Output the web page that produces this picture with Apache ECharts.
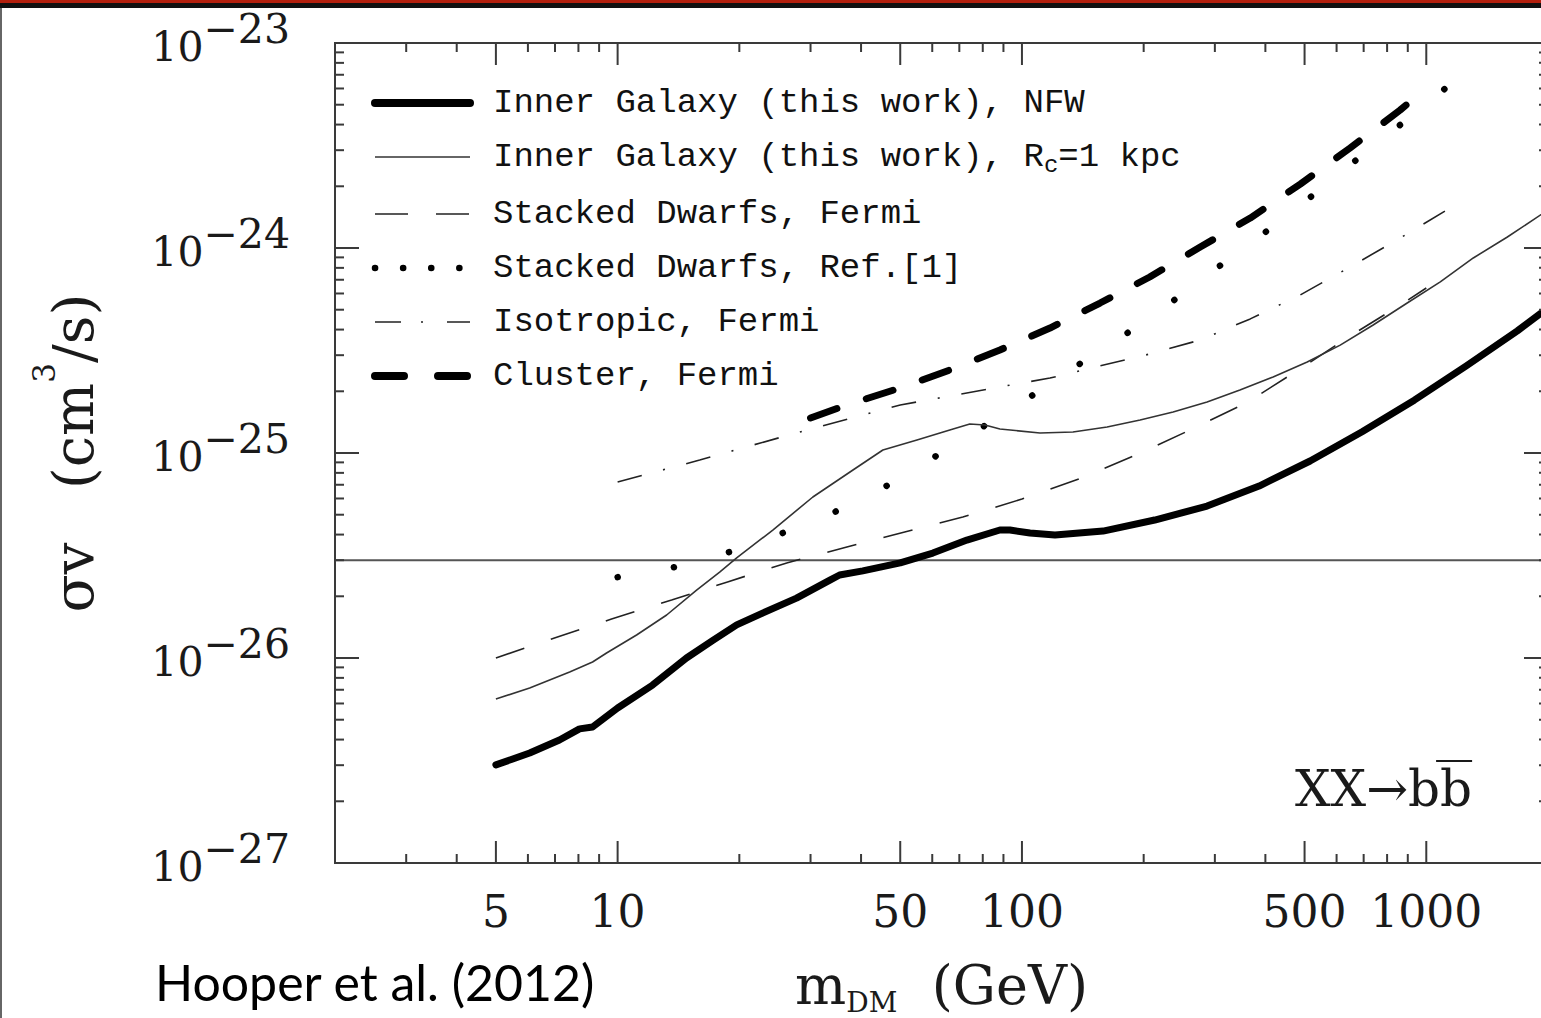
<!DOCTYPE html>
<html>
<head>
<meta charset="utf-8">
<script src="https://cdn.jsdelivr.net/npm/echarts@6.0.0/dist/echarts.min.js"></script>
<style>
  html, body { margin: 0; padding: 0; background: #fff; }
  #chart { width: 1541px; height: 1018px; }
  #err { position: absolute; left: 600px; top: 600px; color: red; font: 14px sans-serif; }
</style>
</head>
<body>
<div id="chart"></div>
<div id="err"></div>
<script>
window.onerror = function (m) { document.getElementById('err').textContent = String(m); };
// ---------------- data ----------------
const xMin = 2, xMax = 2000;
const yMin = 1e-27, yMax = 1e-23;

const nameNFW = 'Inner Galaxy (this work), NFW';
const nameRc = 'Inner Galaxy (this work), Rc=1 kpc';
const nameDwarfFermi = 'Stacked Dwarfs, Fermi';
const nameDwarfRef1 = 'Stacked Dwarfs, Ref.[1]';
const nameIso = 'Isotropic, Fermi';
const nameCluster = 'Cluster, Fermi';

const massNFW = [5, 6.06, 7.18, 8.05, 8.67, 10, 12.2, 14.8, 17.2, 19.7, 22.9, 27.7, 33.5, 35.4, 40.4, 50, 60.2, 73.1, 88.2, 93.4, 104.7, 120.7, 158.7, 213, 287, 386, 516, 694, 934, 1256, 1680, 2000];
const svNFW = [3.01e-27, 3.44e-27, 3.98e-27, 4.51e-27, 4.61e-27, 5.70e-27, 7.38e-27, 1.00e-26, 1.22e-26, 1.45e-26, 1.66e-26, 1.96e-26, 2.40e-26, 2.54e-26, 2.66e-26, 2.91e-26, 3.25e-26, 3.76e-26, 4.21e-26, 4.21e-26, 4.07e-26, 3.98e-26, 4.16e-26, 4.71e-26, 5.51e-26, 6.90e-26, 9.14e-26, 1.27e-25, 1.81e-25, 2.66e-25, 3.94e-25, 5.10e-25];

const massRc = [5, 6.06, 7.61, 8.67, 9.39, 11.14, 13.22, 15.68, 17.88, 19.7, 24.2, 30.4, 38.2, 45.3, 55.0, 66.3, 74.3, 81.0, 88.2, 110.8, 133.7, 162.4, 196, 236.5, 287, 346, 418, 507.6, 612.5, 739, 897, 1083, 1307, 1587, 2000];
const svRc = [6.31e-27, 7.14e-27, 8.55e-27, 9.56e-27, 1.058e-26, 1.295e-26, 1.621e-26, 2.146e-26, 2.627e-26, 3.075e-26, 4.21e-26, 6.10e-26, 8.26e-26, 1.034e-25, 1.157e-25, 1.295e-25, 1.385e-25, 1.370e-25, 1.31e-25, 1.252e-25, 1.266e-25, 1.339e-25, 1.449e-25, 1.585e-25, 1.773e-25, 2.03e-25, 2.35e-25, 2.78e-25, 3.36e-25, 4.21e-25, 5.39e-25, 6.83e-25, 8.94e-25, 1.132e-24, 1.532e-24];

const massDwarfFermi = [5, 6.98, 9.66, 13.6, 18.7, 26.2, 36.9, 51.3, 71.4, 100, 138.4, 191.6, 260.5, 358.4, 482.3, 648, 862, 1000];
const svDwarfFermi = [1.00e-26, 1.252e-26, 1.55e-26, 1.918e-26, 2.35e-26, 2.91e-26, 3.48e-26, 4.12e-26, 4.87e-26, 5.96e-26, 7.47e-26, 9.78e-26, 1.295e-25, 1.753e-25, 2.54e-25, 3.72e-25, 5.27e-25, 6.38e-25];

const massDwarfRef1 = [10, 13.92, 18.93, 25.6, 34.4, 45.8, 60.2, 79.2, 104.7, 135.3, 177.8, 231, 298.7, 386, 496, 637.6, 819, 1052, 1345];
const svDwarfRef1 = [2.48e-26, 2.78e-26, 3.29e-26, 4.07e-26, 5.15e-26, 6.83e-26, 9.45e-26, 1.324e-25, 1.876e-25, 2.63e-25, 3.72e-25, 5.33e-25, 7.81e-25, 1.132e-24, 1.657e-24, 2.48e-24, 3.68e-24, 5.45e-24, 8.26e-24];

const massIso = [10, 15.96, 28.2, 50, 88.2, 117.3, 156, 207, 276, 367, 487.7, 648, 862, 1166];
const svIso = [7.22e-26, 9.24e-26, 1.266e-25, 1.714e-25, 2.10e-25, 2.32e-25, 2.66e-25, 3.04e-25, 3.56e-25, 4.51e-25, 5.90e-25, 8.08e-25, 1.119e-24, 1.60e-24];

const massCluster = [30, 37.5, 50, 66.3, 88.2, 117.3, 156, 207, 276, 367, 488, 648, 862, 1000];
const svCluster = [1.482e-25, 1.734e-25, 2.076e-25, 2.54e-25, 3.18e-25, 4.07e-25, 5.39e-25, 7.22e-25, 1.011e-24, 1.40e-24, 2.05e-24, 3.075e-24, 4.71e-24, 6.03e-24];

const thermalRelic = 3e-26;

// axis ticks / labels
const xMajorTicks = [5, 10, 50, 100, 500, 1000];
const xTickLabels = ['5', '10', '50', '100', '500', '1000'];
const xMinorTicks = [3, 4, 6, 7, 8, 9, 20, 30, 40, 60, 70, 80, 90, 200, 300, 400, 600, 700, 800, 900];
const yMajorTicks = [1e-26, 1e-25, 1e-24];
const yMinorMantissas = [2, 3, 4, 5, 6, 7, 8, 9];
const yDecades = [-27, -26, -25, -24];

// ---------------- helpers ----------------
// ECharts' log scale loses precision below ~1e-20, so the y axis is drawn
// in units of 1e-27 cm^3/s; labels convert back to the true exponent.
const yUnitExp = -27;
const yUnit = 1e-27;
const ys = v => v / yUnit;
const pairs = (xs, vals) => xs.map((x, i) => [x, ys(vals[i])]);
const axisColor = '#3a3a3a';
const textColor = '#1a1a1a';
const serif = 'DejaVu Serif';

const yMinorTicks = [];
yDecades.forEach(e => yMinorMantissas.forEach(k => yMinorTicks.push(k * Math.pow(10, e))));

const xTickData = xMajorTicks.map((v, i) => [v, ys(yMin), 1, i]).concat(xMinorTicks.map(v => [v, ys(yMin), 0, -1]));
const yTickData = yMajorTicks.map(v => [xMin, ys(v), 1]).concat(yMinorTicks.map(v => [xMin, ys(v), 0]));

const chart = echarts.init(document.getElementById('chart'), null, { renderer: 'svg' });

// measure for the b-bar overline
const ctx = document.createElement('canvas').getContext('2d');
const annFont = 50;
ctx.font = annFont + 'px "' + serif + '"';
const annText = 'XX\u2192bb';
const annX = 1295;
const wAll = ctx.measureText(annText).width;
const wB = ctx.measureText('b').width;

const lineSeries = (name, xs, vals, lineStyle) => ({
  name: name, type: 'line', symbol: 'none', data: pairs(xs, vals),
  itemStyle: { color: lineStyle.color }, lineStyle: lineStyle
});

const option = {
  animation: false,
  backgroundColor: '#fff',
  grid: {
    left: 335, top: 43, width: 1213, height: 820, outerBoundsMode: 'none', containLabel: false,
    show: true, borderColor: axisColor, borderWidth: 2, backgroundColor: 'transparent'
  },
  xAxis: {
    type: 'log', logBase: 10, min: xMin, max: xMax,
    axisLine: { show: false }, axisTick: { show: false }, axisLabel: { show: false }, splitLine: { show: false },
    name: '{t|m}{s|DM}{t|  (GeV)}',
    nameLocation: 'middle', nameGap: 91,
    nameTextStyle: {
      rich: {
        t: { fontFamily: serif, fontSize: 54, lineHeight: 62, color: textColor },
        s: { fontFamily: serif, fontSize: 28, lineHeight: 24, verticalAlign: 'bottom', color: textColor }
      }
    }
  },
  yAxis: {
    type: 'log', logBase: 10, min: ys(yMin), max: ys(yMax), splitNumber: 4,
    axisLine: { show: false }, axisTick: { show: false }, splitLine: { show: false },
    axisLabel: {
      margin: 45,
      formatter: function (v) {
        const e = Math.round(Math.log10(v)) + yUnitExp;
        return '{a|10}{b|\u2212' + (-e) + '}';
      },
      rich: {
        a: { fontFamily: serif, fontSize: 41, color: textColor, verticalAlign: 'bottom', padding: [0, 0, 10, 0] },
        b: { fontFamily: serif, fontSize: 41, color: textColor, verticalAlign: 'top', padding: [0, 0, 28, 0] }
      }
    },
    name: '{t|\u03c3v   (cm}{p|3}{t|/s)}',
    nameLocation: 'middle', nameRotate: 90, nameGap: 217,
    nameTextStyle: {
      rich: {
        t: { fontFamily: serif, fontSize: 56, lineHeight: 90, color: textColor },
        p: { fontFamily: serif, fontSize: 31, lineHeight: 30, verticalAlign: 'top', color: textColor }
      }
    }
  },
  legend: {
    left: 371, top: 86, orient: 'vertical', padding: 0,
    itemWidth: 95, itemHeight: 14, itemGap: 20, selectedMode: false,
    itemStyle: { opacity: 0 },
    textStyle: {
      padding: [0, 0, 0, 18],
      rich: {
        t: { fontFamily: 'Liberation Mono', fontSize: 34, lineHeight: 40, color: '#111' },
        s: { fontFamily: 'Liberation Mono', fontSize: 24, lineHeight: 20, verticalAlign: 'bottom', color: '#111' }
      }
    },
    formatter: function (name) {
      if (name.indexOf('Rc=') >= 0) {
        const p = name.split('Rc');
        return '{t|' + p[0] + 'R}{s|c}{t|' + p[1] + '}';
      }
      return '{t|' + name + '}';
    },
    data: [
      { name: nameNFW, lineStyle: { width: 8, cap: 'round' } },
      { name: nameRc, lineStyle: { width: 1.6 } },
      { name: nameDwarfFermi, lineStyle: { width: 1.6, type: [33, 28] } },
      { name: nameDwarfRef1, lineStyle: { width: 6.5, type: [0.1, 28], cap: 'round' } },
      { name: nameIso, lineStyle: { width: 1.6, type: [26, 20, 2, 24] } },
      { name: nameCluster, lineStyle: { width: 8, type: [29, 34], cap: 'round' } }
    ]
  },
  graphic: [
    { type: 'rect', shape: { x: 0, y: 0, width: 1541, height: 3 }, style: { fill: '#b3200e' }, z: 100 },
    { type: 'rect', shape: { x: 0, y: 3, width: 1541, height: 5 }, style: { fill: '#111' }, z: 100 },
    { type: 'rect', shape: { x: 0, y: 8, width: 2, height: 1010 }, style: { fill: '#666' }, z: 100 },
    { type: 'text', x: 155, y: 982, style: { text: 'Hooper et al. (2012)', fontFamily: 'Lato', fontSize: 50, fill: '#000', align: 'left', verticalAlign: 'middle' }, z: 100 },
    { type: 'text', x: annX, y: 789, style: { text: annText, fontFamily: serif, fontSize: annFont, fill: textColor, align: 'left', verticalAlign: 'middle' }, z: 100 },
    { type: 'rect', shape: { x: annX + wAll - wB - 4, y: 760, width: wB + 4, height: 2 }, style: { fill: textColor }, z: 100 }
  ],
  series: [
    {
      name: 'thermal', type: 'line', symbol: 'none', silent: true,
      data: [[xMin, ys(thermalRelic)], [xMax, ys(thermalRelic)]],
      itemStyle: { color: '#555' }, lineStyle: { color: '#555', width: 2 }
    },
    lineSeries(nameDwarfFermi, massDwarfFermi, svDwarfFermi, { color: '#222', width: 1.6, type: [30, 28] }),
    lineSeries(nameIso, massIso, svIso, { color: '#222', width: 1.6, type: [25, 22, 2, 22] }),
    lineSeries(nameDwarfRef1, massDwarfRef1, svDwarfRef1, { color: '#000', width: 6.5, type: [0.1, 57], cap: 'round' }),
    lineSeries(nameCluster, massCluster, svCluster, { color: '#000', width: 7, type: [28, 31], cap: 'round' }),
    lineSeries(nameRc, massRc, svRc, { color: '#333', width: 1.6, join: 'round' }),
    lineSeries(nameNFW, massNFW, svNFW, { color: '#000', width: 7, cap: 'round', join: 'round' }),
    {
      name: 'xticks', type: 'custom', silent: true, clip: false, z: 5,
      data: xTickData, encode: { x: 0, y: 1 },
      renderItem: function (params, api) {
        const v = api.value(0), major = api.value(2), li = api.value(3);
        const b = api.coord([v, ys(yMin)]);
        const t = api.coord([v, ys(yMax)]);
        const L = major ? 22 : 9;
        const st = { stroke: axisColor, lineWidth: 2 };
        const children = [
          { type: 'line', shape: { x1: b[0], y1: b[1], x2: b[0], y2: b[1] - L }, style: st },
          { type: 'line', shape: { x1: t[0], y1: t[1], x2: t[0], y2: t[1] + L }, style: st }
        ];
        if (major) {
          children.push({
            type: 'text',
            style: { text: xTickLabels[li], x: b[0], y: b[1] + 48, align: 'center', verticalAlign: 'middle', fontFamily: serif, fontSize: 44, fill: textColor }
          });
        }
        return { type: 'group', children: children };
      }
    },
    {
      name: 'yticks', type: 'custom', silent: true, clip: false, z: 5,
      data: yTickData, encode: { x: 0, y: 1 },
      renderItem: function (params, api) {
        const v = api.value(1), major = api.value(2);
        const l = api.coord([xMin, v]);
        const r = api.coord([xMax, v]);
        const L = major ? 24 : 9;
        const st = { stroke: axisColor, lineWidth: 2 };
        return {
          type: 'group', children: [
            { type: 'line', shape: { x1: l[0], y1: l[1], x2: l[0] + L, y2: l[1] }, style: st },
            { type: 'line', shape: { x1: r[0], y1: r[1], x2: r[0] - L, y2: r[1] }, style: st }
          ]
        };
      }
    }
  ]
};
chart.setOption(option);
</script>
</body>
</html>
